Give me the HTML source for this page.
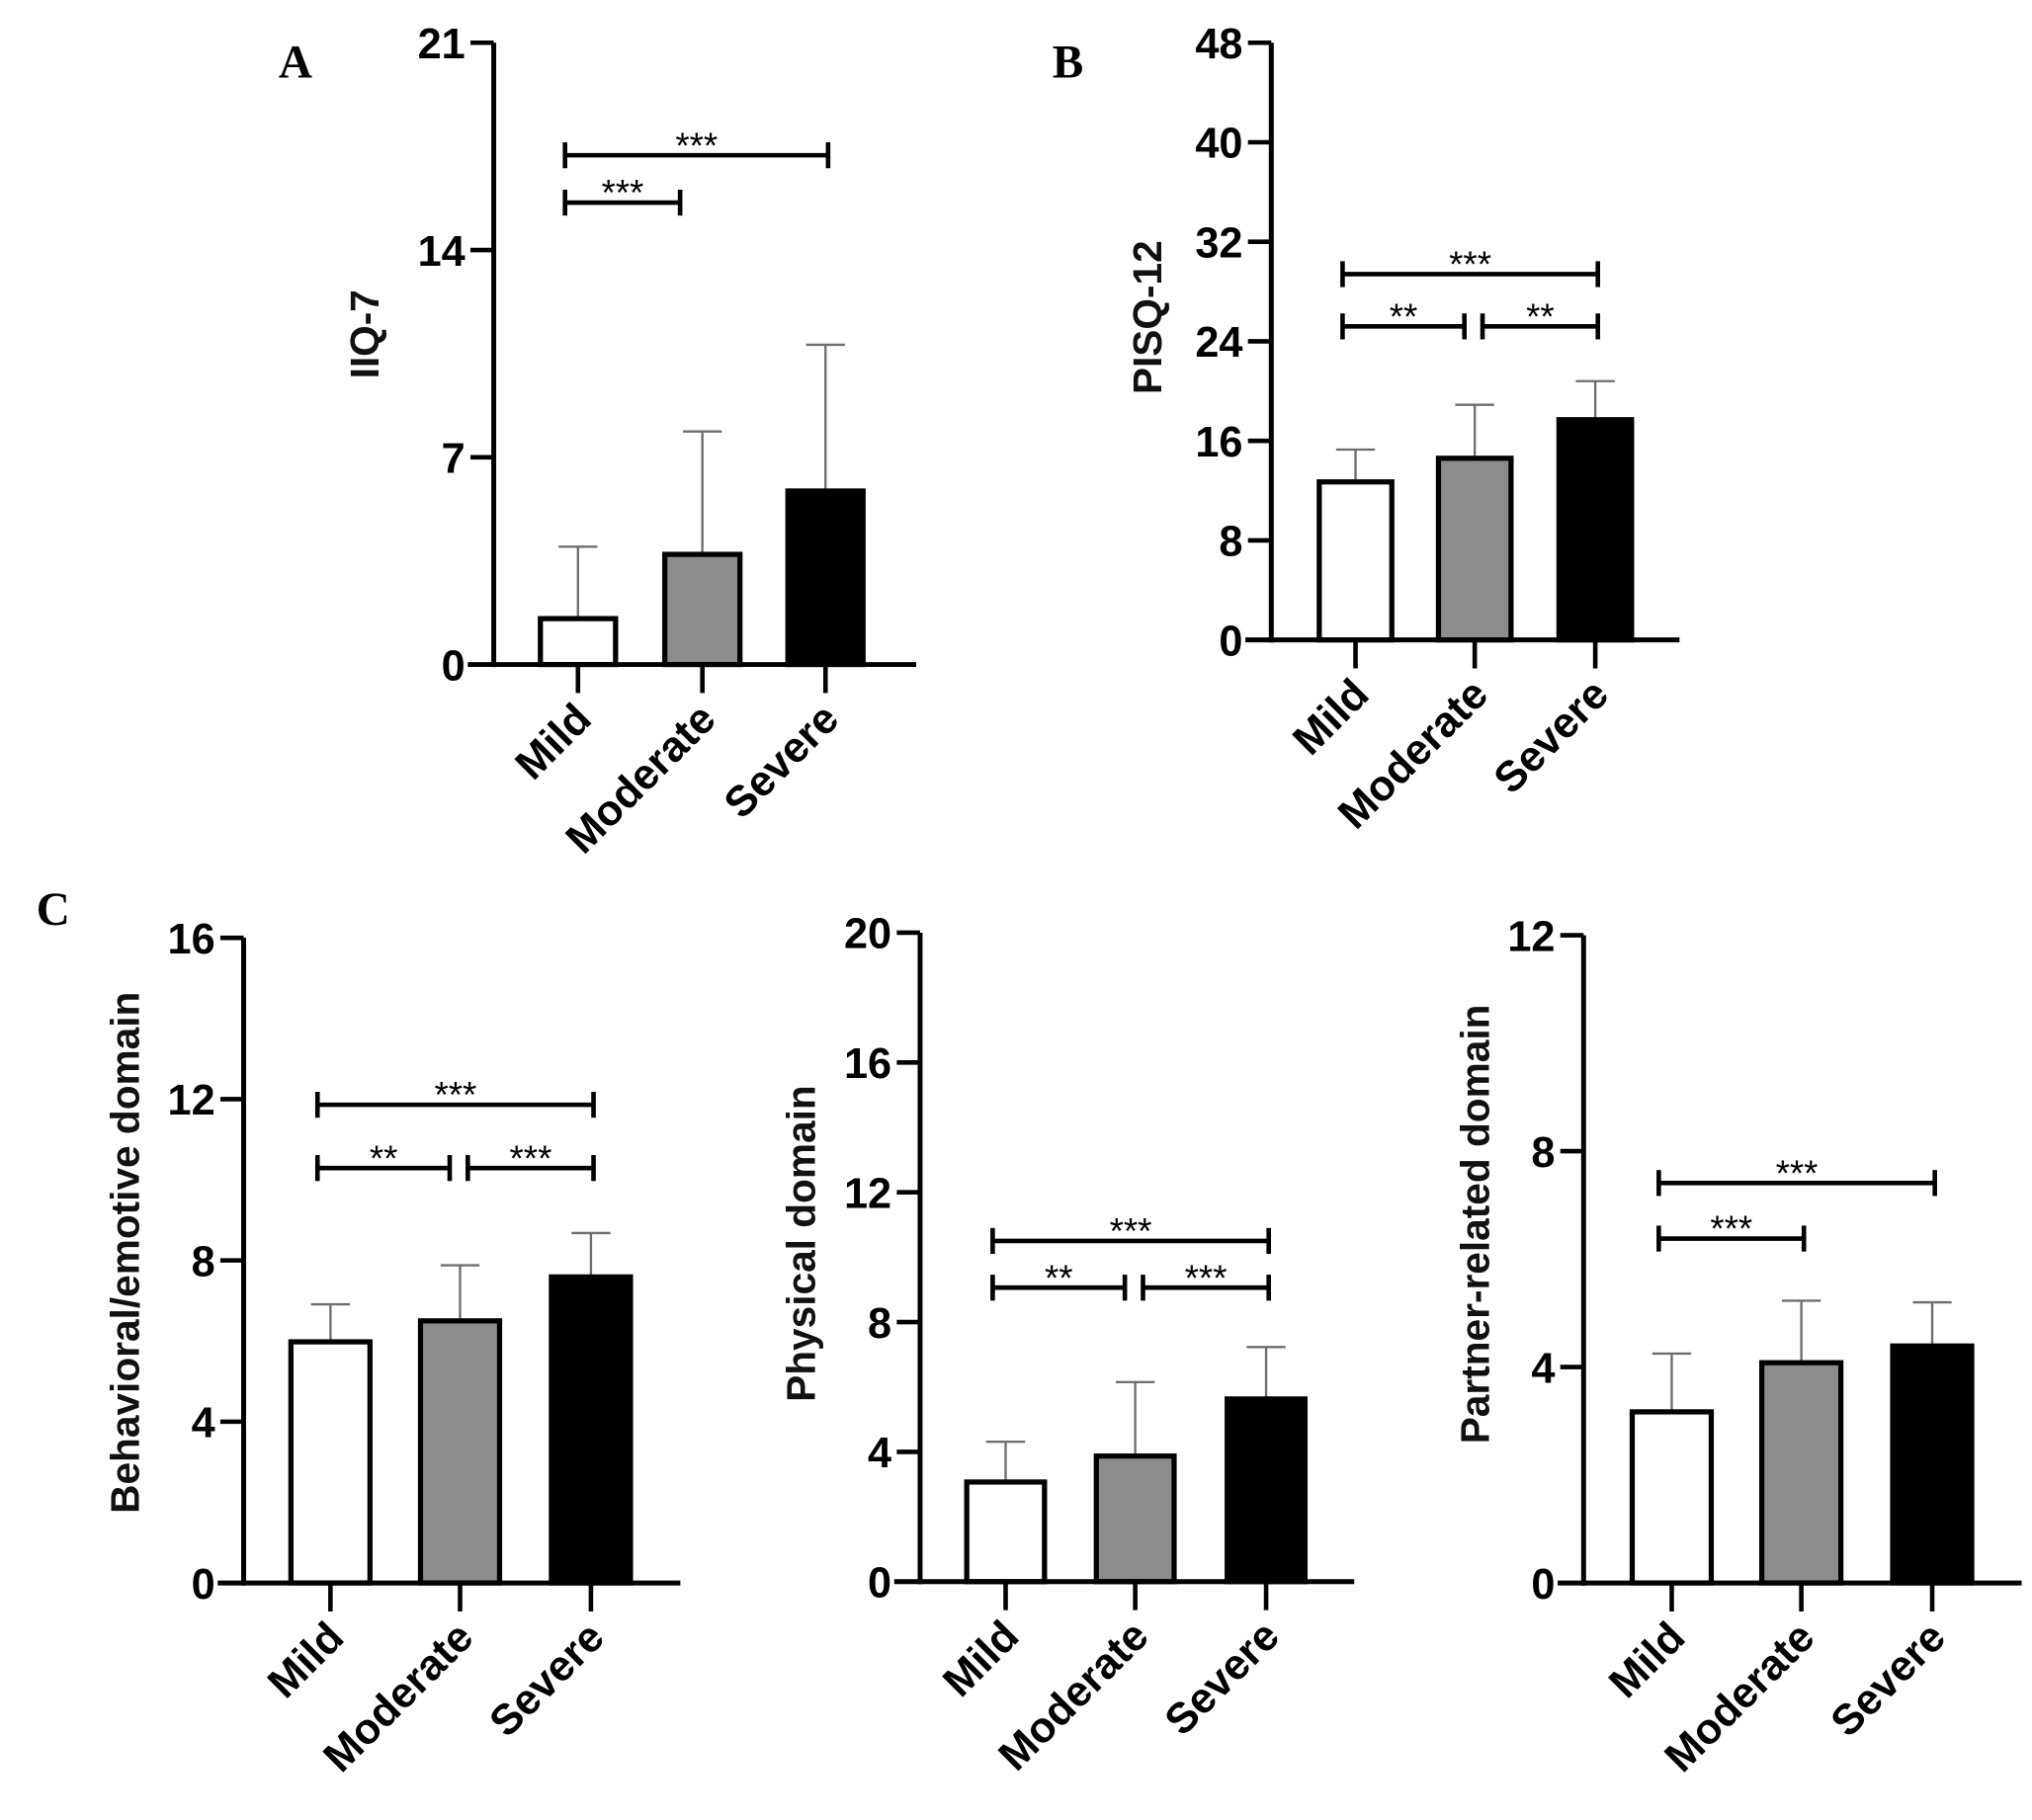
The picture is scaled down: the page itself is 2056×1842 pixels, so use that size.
<!DOCTYPE html>
<html><head><meta charset="utf-8"><style>
html,body{margin:0;padding:0;background:#fff;}
svg{display:block;}
text{font-family:"Liberation Sans",Arial,sans-serif;}
text.serif{font-family:"Liberation Serif","Times New Roman",serif;}
</style></head><body>
<svg id="fig" width="2056" height="1842" viewBox="0 0 1568 1405" preserveAspectRatio="none" xmlns="http://www.w3.org/2000/svg">
<text class="serif" x="215" y="60" font-weight="bold" font-size="36">A</text>
<text class="serif" x="812" y="60" font-weight="bold" font-size="36">B</text>
<text class="serif" x="28" y="714" font-weight="bold" font-size="36">C</text>
</svg>
<script>
const categories = ["Mild","Moderate","Severe"];
const fills = ["#ffffff","#8c8c8c","#000000"];
// panel A
const iiqMeans = [1.55, 3.72, 5.86];
const iiqErr = [3.98, 7.87, 10.8];
const iiqTicks = [0, 7, 14, 21];
// panel B
const pisqMeans = [12.7, 14.6, 17.7];
const pisqErr = [15.3, 18.9, 20.8];
const pisqTicks = [0, 8, 16, 24, 32, 40, 48];
// panel C1
const behMeans = [5.98, 6.5, 7.59];
const behErr = [6.91, 7.88, 8.68];
const behTicks = [0, 4, 8, 12, 16];
// panel C2
const phyMeans = [3.07, 3.87, 5.63];
const phyErr = [4.31, 6.15, 7.23];
const phyTicks = [0, 4, 8, 12, 16, 20];
// panel C3
const parMeans = [3.17, 4.08, 4.39];
const parErr = [4.25, 5.23, 5.2];
const parTicks = [0, 4, 8, 12];
// significance brackets: [fromIdx, toIdx, yValue, label]
const iiqSig = [[0,2,17.2,"***"],[0,0.8,15.6,"***"]];
const pisqSig = [[0,2,29.4,"***"],[0,1,25.2,"**"],[1,2,25.2,"**"]];
const behSig = [[0,2,11.86,"***"],[0,1,10.29,"**"],[1,2,10.29,"***"]];
const phySig = [[0,2,10.5,"***"],[0,1,9.06,"**"],[1,2,9.06,"***"]];
const parSig = [[0,2,7.41,"***"],[0,1,6.38,"***"]];

const NS = "http://www.w3.org/2000/svg";
const svg = document.getElementById("fig");
function mk(tag, attrs, parent){
  const e = document.createElementNS(NS, tag);
  for (const k in attrs) e.setAttribute(k, attrs[k]);
  (parent||svg).appendChild(e);
  return e;
}
function panel(cfg){
  const g = mk("g", {});
  
  
  const tMax = cfg.ticks[cfg.ticks.length-1];
  const y = v => cfg.y0 - (v / tMax) * (cfg.y0 - cfg.yTop);
  const x = i => { const a = Math.floor(i), f = i - a; return f === 0 ? cfg.cx[a] : cfg.cx[a] + f * (cfg.cx[a+1] - cfg.cx[a]); };
  const hw = cfg.barW / 2;
  cfg.means.forEach((m, i) => {
    const el = mk("line", {x1:x(i), x2:x(i), y1:y(m), y2:y(cfg.err[i]), stroke:"#6e6e6e", "stroke-width":1.8}, g);
    
    
    const cap = mk("line", {x1:x(i)-15, x2:x(i)+15, y1:y(cfg.err[i]), y2:y(cfg.err[i]), stroke:"#6e6e6e", "stroke-width":1.8}, g);
    
    
    const r = mk("rect", {x:x(i)-hw+2, y:y(m), width:cfg.barW-4, height:cfg.y0 - y(m), fill:fills[i], stroke:"#000", "stroke-width":4}, g);
    
    
  });
  const ya = mk("line", {x1:cfg.ax, x2:cfg.ax, y1:cfg.yTop, y2:cfg.y0+2, stroke:"#000", "stroke-width":3.8}, g);
  
  
  const xa = mk("line", {x1:cfg.ax-20, x2:cfg.xEnd, y1:cfg.y0, y2:cfg.y0, stroke:"#000", "stroke-width":3.8}, g);
  
  
  cfg.ticks.forEach(t => {
    if (t !== 0) {
      const tk = mk("line", {x1:cfg.ax-18, x2:cfg.ax, y1:y(t), y2:y(t), stroke:"#000", "stroke-width":3.5}, g);
      
      
    }
    const tl = mk("text", {x:cfg.ax-22, y:y(t)+12, "text-anchor":"end", "font-size":33, "font-weight":"bold"}, g);
    tl.textContent = t;
    
    
  });
  categories.forEach((c, i) => {
    const tk = mk("line", {x1:x(i), x2:x(i), y1:cfg.y0, y2:cfg.y0+22, stroke:"#000", "stroke-width":3.5}, g);
    
    
    const ax = x(i) + 12, ay = cfg.y0 + 44;
    const tl = mk("text", {x:ax, y:ay, "text-anchor":"end", "font-size":33, "font-weight":"bold", transform:`rotate(-45 ${ax} ${ay})`}, g);
    tl.textContent = c;
    
    
  });
  const yt = mk("text", {x:cfg.titleX, y:cfg.titleY, "text-anchor":"middle", "font-size":31, "font-weight":"bold", fill:"#111", transform:`rotate(-90 ${cfg.titleX} ${cfg.titleY})`}, g);
  yt.textContent = cfg.title;
  
  
  cfg.sig.forEach(s => {
    let x1 = x(s[0]) - 10, x2 = x(s[1]) + 2;
    const adj = s[1] - s[0] === 1;
    if (adj && s[0] === 0 && cfg.sig.some(o => o[0] === 1 && o[1] === 2 && o[2] === s[2])) x2 = x(1) - 8;
    if (adj && s[0] === 1) x1 = x(1) + 6;
    const yy = y(s[2]);
    const bg = mk("g", {}, g);
    
    
    mk("line", {x1:x1, x2:x2, y1:yy, y2:yy, stroke:"#000", "stroke-width":3.5}, bg);
    mk("line", {x1:x1, x2:x1, y1:yy-10, y2:yy+10, stroke:"#000", "stroke-width":3.5}, bg);
    mk("line", {x1:x2, x2:x2, y1:yy-10, y2:yy+10, stroke:"#000", "stroke-width":3.5}, bg);
    const st = mk("text", {x:(x1+x2)/2, y:yy+2, "text-anchor":"middle", "font-size":28}, bg);
    st.textContent = s[3];
    
    
  });
}
panel({name:"panel-a-iiq7", ax:381, yTop:33, y0:513, xEnd:707, cx:[446,542,637], barW:62, means:iiqMeans, err:iiqErr, ticks:iiqTicks, title:"IIQ-7", titleX:292, titleY:258, sig:iiqSig});
panel({name:"panel-b-pisq12", ax:981, yTop:33, y0:494, xEnd:1296, cx:[1046,1138,1231], barW:60, means:pisqMeans, err:pisqErr, ticks:pisqTicks, title:"PISQ-12", titleX:896, titleY:245, sig:pisqSig});
panel({name:"panel-c-behavioral", ax:188, yTop:724, y0:1222, xEnd:525, cx:[255,355,456], barW:65, means:behMeans, err:behErr, ticks:behTicks, title:"Behavioral/emotive domain", titleX:107, titleY:967, sig:behSig});
panel({name:"panel-c-physical", ax:710, yTop:720, y0:1221, xEnd:1045, cx:[776,876,977], barW:64, means:phyMeans, err:phyErr, ticks:phyTicks, title:"Physical domain", titleX:629, titleY:960, sig:phySig});
panel({name:"panel-c-partner", ax:1222, yTop:722, y0:1222, xEnd:1560, cx:[1290,1390,1491], barW:65, means:parMeans, err:parErr, ticks:parTicks, title:"Partner-related domain", titleX:1149, titleY:945, sig:parSig});
</script>
</body></html>
